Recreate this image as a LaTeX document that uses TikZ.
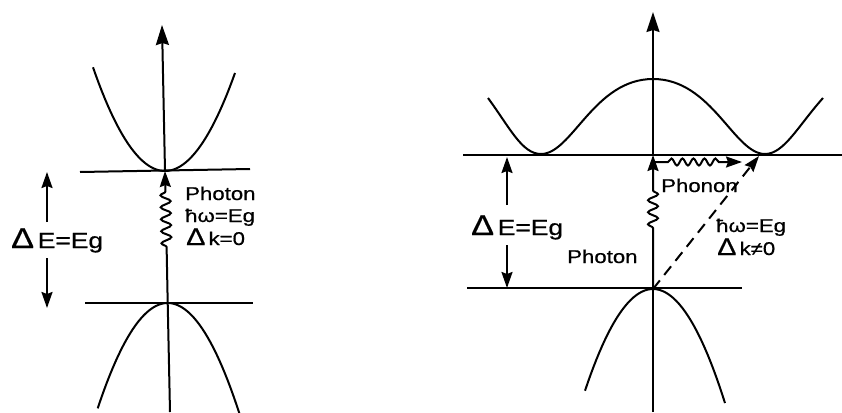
\documentclass[tikz,border=0pt]{standalone}
\usepackage{fontspec}
\setmainfont{Liberation Sans}[FakeStretch=1.2, FakeBold=0.6]
\usepackage{graphicx}
\usetikzlibrary{positioning,arrows.meta,decorations.pathmorphing}
\newcommand{\gapDelta}{\scalebox{1.3}{Δ}\,}
\tikzset{
	gapLine/.style={line width=2pt},
	gapAxis/.style={gapLine, -{Stealth[length=20pt,width=13pt,inset=2pt]}},
	gapArrow/.style={gapLine, -{Stealth[length=16pt,width=11pt,inset=2pt]}},
	gapBand/.style={gapLine, line join=round},
	gapLevel/.style={gapLine},
	gapDashed/.style={gapArrow, dash pattern=on 11pt off 7pt},
	gapWave/.style={decoration={snake, amplitude=5pt, segment length=12pt}},
	gapFlatWave/.style={decoration={snake, amplitude=3.5pt, segment length=11pt}},
	gapText/.style={inner sep=0pt, anchor=base west},
	gapBig/.style={gapText, font=\fontsize{22}{24}\selectfont},
	gapSmall/.style={gapText, font=\fontsize{18.5}{20}\selectfont}
}

\begin{document}
\begin{tikzpicture}[x=1pt, y=-1pt]
	\useasboundingbox (0,0) rectangle (842,412);

	% Left: direct gap
	\coordinate (botL) at (170,412);
	\coordinate (topL) at (162,25);
	\coordinate (cminL) at (165,171);
	\coordinate (vmaxL) at (167.7,303);
	\coordinate (waveL1) at (166.6,247);
	\coordinate (waveL2) at (165.4,190);
	\coordinate (cLevL1) at (80,172);
	\coordinate (cLevL2) at (250,169);
	\coordinate (vLevL1) at (85,303);
	\coordinate (vLevL2) at (253,303);
	\coordinate (gapL1) at (47,222);
	\coordinate (gapL2) at (47,172);
	\coordinate (gapL3) at (47,258);
	\coordinate (gapL4) at (47,308);

	\draw[gapBand] plot[domain=-72:70, samples=50] ({165+\x},{171-0.02*\x*\x});
	\draw[gapBand] plot[domain=-70:72, samples=50] ({167.7+\x},{303+0.0215*\x*\x});
	\draw[gapLevel] (cLevL1) -- (cLevL2);
	\draw[gapLevel] (vLevL1) -- (vLevL2);
	\draw[gapLine] (botL) -- (vmaxL);
	\draw[gapAxis] (cminL) -- (topL);
	\draw[gapArrow] (vmaxL) -- (waveL1) decorate[gapWave]{-- (waveL2)} -- (cminL);

	\node[gapBig] (deltaEL) at (11,248) {\gapDelta E=Eg};
	\draw[gapArrow] (gapL1) -- (gapL2);
	\draw[gapArrow] (gapL3) -- (gapL4);

	\node[gapSmall] (photonL) at (185,200) {Photon};
	\node[gapSmall] (energyL) at (185,222) {ħω=Eg};
	\node[gapSmall] (deltaKL) at (186,245) {\gapDelta k=0};

	% Right: indirect gap
	\coordinate (botR) at (653,412);
	\coordinate (topR) at (653,12);
	\coordinate (cminR) at (653,155);
	\coordinate (vmaxR) at (653,289);
	\coordinate (waveR1) at (653,228);
	\coordinate (waveR2) at (653,186);
	\coordinate (kMin) at (759,156);
	\coordinate (phonon0) at (655,162);
	\coordinate (phonon1) at (668,162);
	\coordinate (phonon2) at (722,162);
	\coordinate (phonon3) at (742,162);
	\coordinate (cLevR1) at (463,155);
	\coordinate (cLevR2) at (842,155);
	\coordinate (vLevR1) at (467,288);
	\coordinate (vLevR2) at (742,288);
	\coordinate (gapR1) at (507,205);
	\coordinate (gapR2) at (507,157);
	\coordinate (gapR3) at (507,245);
	\coordinate (gapR4) at (507,288);

	\draw[gapBand] (488,98) .. controls (510,128) and (522,154) .. (541,154)
		.. controls (572,154) and (594,79) .. (653,79)
		.. controls (712,79) and (734,154) .. (765,154)
		.. controls (784,154) and (798,126) .. (823,98);
	\draw[gapBand] plot[domain=-68:72, samples=50] ({653+\x},{289+0.022*\x*\x});
	\draw[gapLevel] (cLevR1) -- (cLevR2);
	\draw[gapLevel] (vLevR1) -- (vLevR2);
	\draw[gapLine] (botR) -- (vmaxR);
	\draw[gapAxis] (cminR) -- (topR);
	\draw[gapArrow] (vmaxR) -- (waveR1) decorate[gapWave]{-- (waveR2)} -- (cminR);
	\draw[gapArrow] (phonon0) -- (phonon1) decorate[gapFlatWave]{-- (phonon2)} -- (phonon3);
	\draw[gapDashed] (vmaxR) -- (kMin);

	\node[gapBig] (deltaER) at (471,235) {\gapDelta E=Eg};
	\draw[gapArrow] (gapR1) -- (gapR2);
	\draw[gapArrow] (gapR3) -- (gapR4);

	\node[gapSmall] (phononR) at (661,192) {Phonon};
	\node[gapSmall] (photonR) at (567,263) {Photon};
	\node[gapSmall] (energyR) at (716,232) {ħω=Eg};
	\node[gapSmall] (deltaKR) at (717,255) {\gapDelta k≠0};

\end{tikzpicture}
\end{document}
